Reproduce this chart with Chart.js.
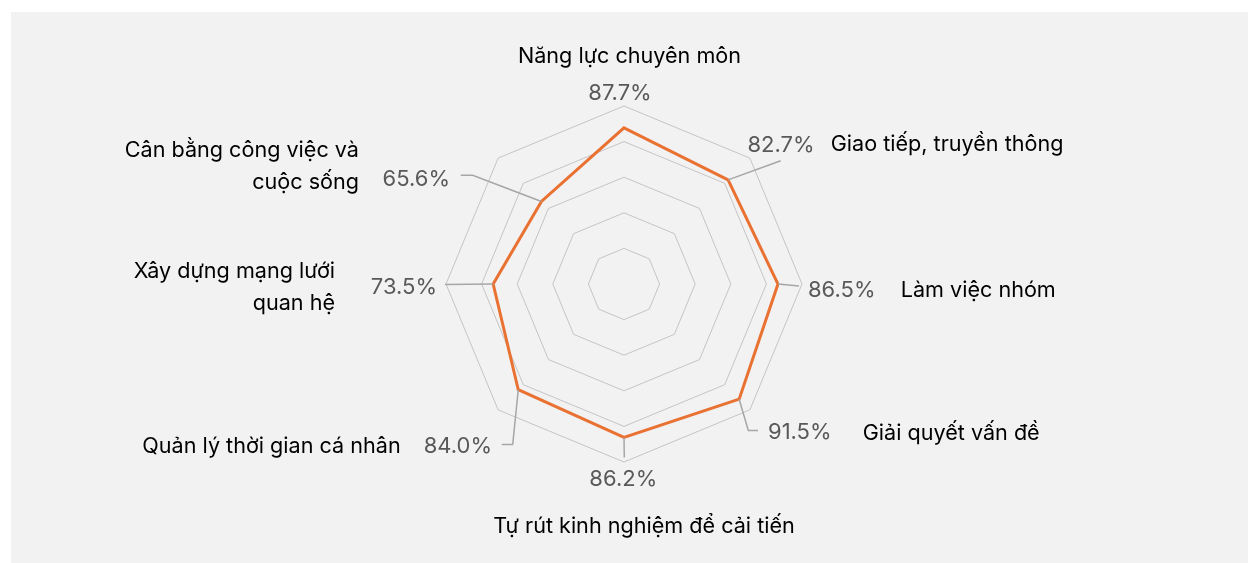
<!DOCTYPE html>
<html>
<head>
<meta charset="utf-8">
<script src="https://cdn.jsdelivr.net/npm/chart.js@4.4.1/dist/chart.umd.min.js"></script>
<style>
  html, body { margin: 0; padding: 0; background: #ffffff; }
  #panel { position: absolute; left: 11px; top: 12px; right: 0; bottom: 0; background: #f2f2f2; }
  #c { position: absolute; left: 0; top: 0; }
</style>
</head>
<body>
<div id="panel"></div>
<canvas id="c" width="1248" height="563"></canvas>
<script>
// ---- data ----
const categories = [
  "Năng lực chuyên môn",
  "Giao tiếp, truyền thông",
  "Làm việc nhóm",
  "Giải quyết vấn đề",
  "Tự rút kinh nghiệm để cải tiến",
  "Quản lý thời gian cá nhân",
  ["Xây dựng mạng lưới", "quan hệ"],
  ["Cân bằng công việc và", "cuộc sống"]
];
const values = [87.7, 82.7, 86.5, 91.5, 86.2, 84.0, 73.5, 65.6];
const valueLabels = ["87.7%", "82.7%", "86.5%", "91.5%", "86.2%", "84.0%", "73.5%", "65.6%"];
const scaleMin = 0;
const scaleMax = 100;
const scaleStep = 20;

// ---- layout (offsets from radar centre, px) ----
const FONT = "Inter, 'Liberation Sans', sans-serif";
const TEXT_SHIFT = 1.5;
const valueLayout = [
  { dx: -4,   dy: -192,  align: "center", leader: [] },
  { dx: 157,  dy: -140,  align: "center", leader: [[156.7, -123.2]] },
  { dx: 184,  dy: 4.5,   align: "left",   leader: [[175, 2]] },
  { dx: 144,  dy: 147,   align: "left",   leader: [[124.3, 146.5], [134, 146.5]] },
  { dx: -0.7, dy: 193.5, align: "center", leader: [[0.3, 173.5]] },
  { dx: -132, dy: 160.5, align: "right",  leader: [[-111.3, 160.5], [-122.3, 160.5]] },
  { dx: -187, dy: 1.5,   align: "right",  leader: [[-179, 0.5]] },
  { dx: -174, dy: -106.5,align: "right",  leader: [[-151.3, -108.8], [-163.3, -108.8]] }
];
const catLayout = [
  { dx: 5.5,  dy: -229.5, align: "center" },
  { dx: 206.7,dy: -141.5, align: "left" },
  { dx: 276.7,dy: 4.5,    align: "left" },
  { dx: 238.7,dy: 147.5,  align: "left" },
  { dx: 20,   dy: 240.5,  align: "center" },
  { dx: -223.3,dy: 160.5, align: "right" },
  { dx: -289, dy: 1.5,    align: "right" },
  { dx: -265, dy: -119,   align: "right" }
];
const LINE_H = 32;

const labelPlugin = {
  id: "radarLabels",
  afterDatasetsDraw(chart) {
    const ctx = chart.ctx;
    const r = chart.scales.r;
    const cx = r.xCenter, cy = r.yCenter;
    const meta = chart.getDatasetMeta(0);
    ctx.save();
    // leader lines
    ctx.strokeStyle = "#a6a6a6";
    ctx.lineWidth = 1.5;
    valueLayout.forEach((L, i) => {
      if (!L.leader.length) return;
      const p = meta.data[i];
      ctx.beginPath();
      ctx.moveTo(p.x, p.y);
      L.leader.forEach(([x, y]) => ctx.lineTo(cx + x, cy + y));
      ctx.stroke();
    });
    // value labels
    ctx.fillStyle = "#595959";
    ctx.font = "22px " + FONT;
    ctx.textBaseline = "middle";
    valueLayout.forEach((L, i) => {
      ctx.textAlign = L.align;
      ctx.fillText(valueLabels[i], cx + L.dx, cy + L.dy + TEXT_SHIFT);
    });
    // category labels
    ctx.fillStyle = "#000000";
    ctx.font = "21.6px " + FONT;
    catLayout.forEach((L, i) => {
      ctx.textAlign = L.align;
      const lines = Array.isArray(categories[i]) ? categories[i] : [categories[i]];
      const y0 = cy + L.dy + TEXT_SHIFT - (lines.length - 1) * LINE_H / 2;
      lines.forEach((t, k) => ctx.fillText(t, cx + L.dx, y0 + k * LINE_H));
    });
    ctx.restore();
  }
};

new Chart(document.getElementById("c"), {
  type: "radar",
  data: {
    labels: categories,
    datasets: [{
      data: values,
      borderColor: "#E97132",
      borderWidth: 3,
      pointRadius: 0,
      pointHoverRadius: 0,
      fill: false,
      tension: 0
    }]
  },
  options: {
    responsive: false,
    animation: false,
    events: [],
    layout: { padding: { top: 106.5, bottom: 100.5, left: 300, right: 300 } },
    plugins: { legend: { display: false }, tooltip: { enabled: false } },
    scales: {
      r: {
        min: scaleMin,
        max: scaleMax,
        ticks: { stepSize: scaleStep, display: false },
        grid: { color: "#c4c4c4", lineWidth: 1 },
        angleLines: { display: false },
        pointLabels: { display: false }
      }
    }
  },
  plugins: [labelPlugin]
});
</script>
</body>
</html>
